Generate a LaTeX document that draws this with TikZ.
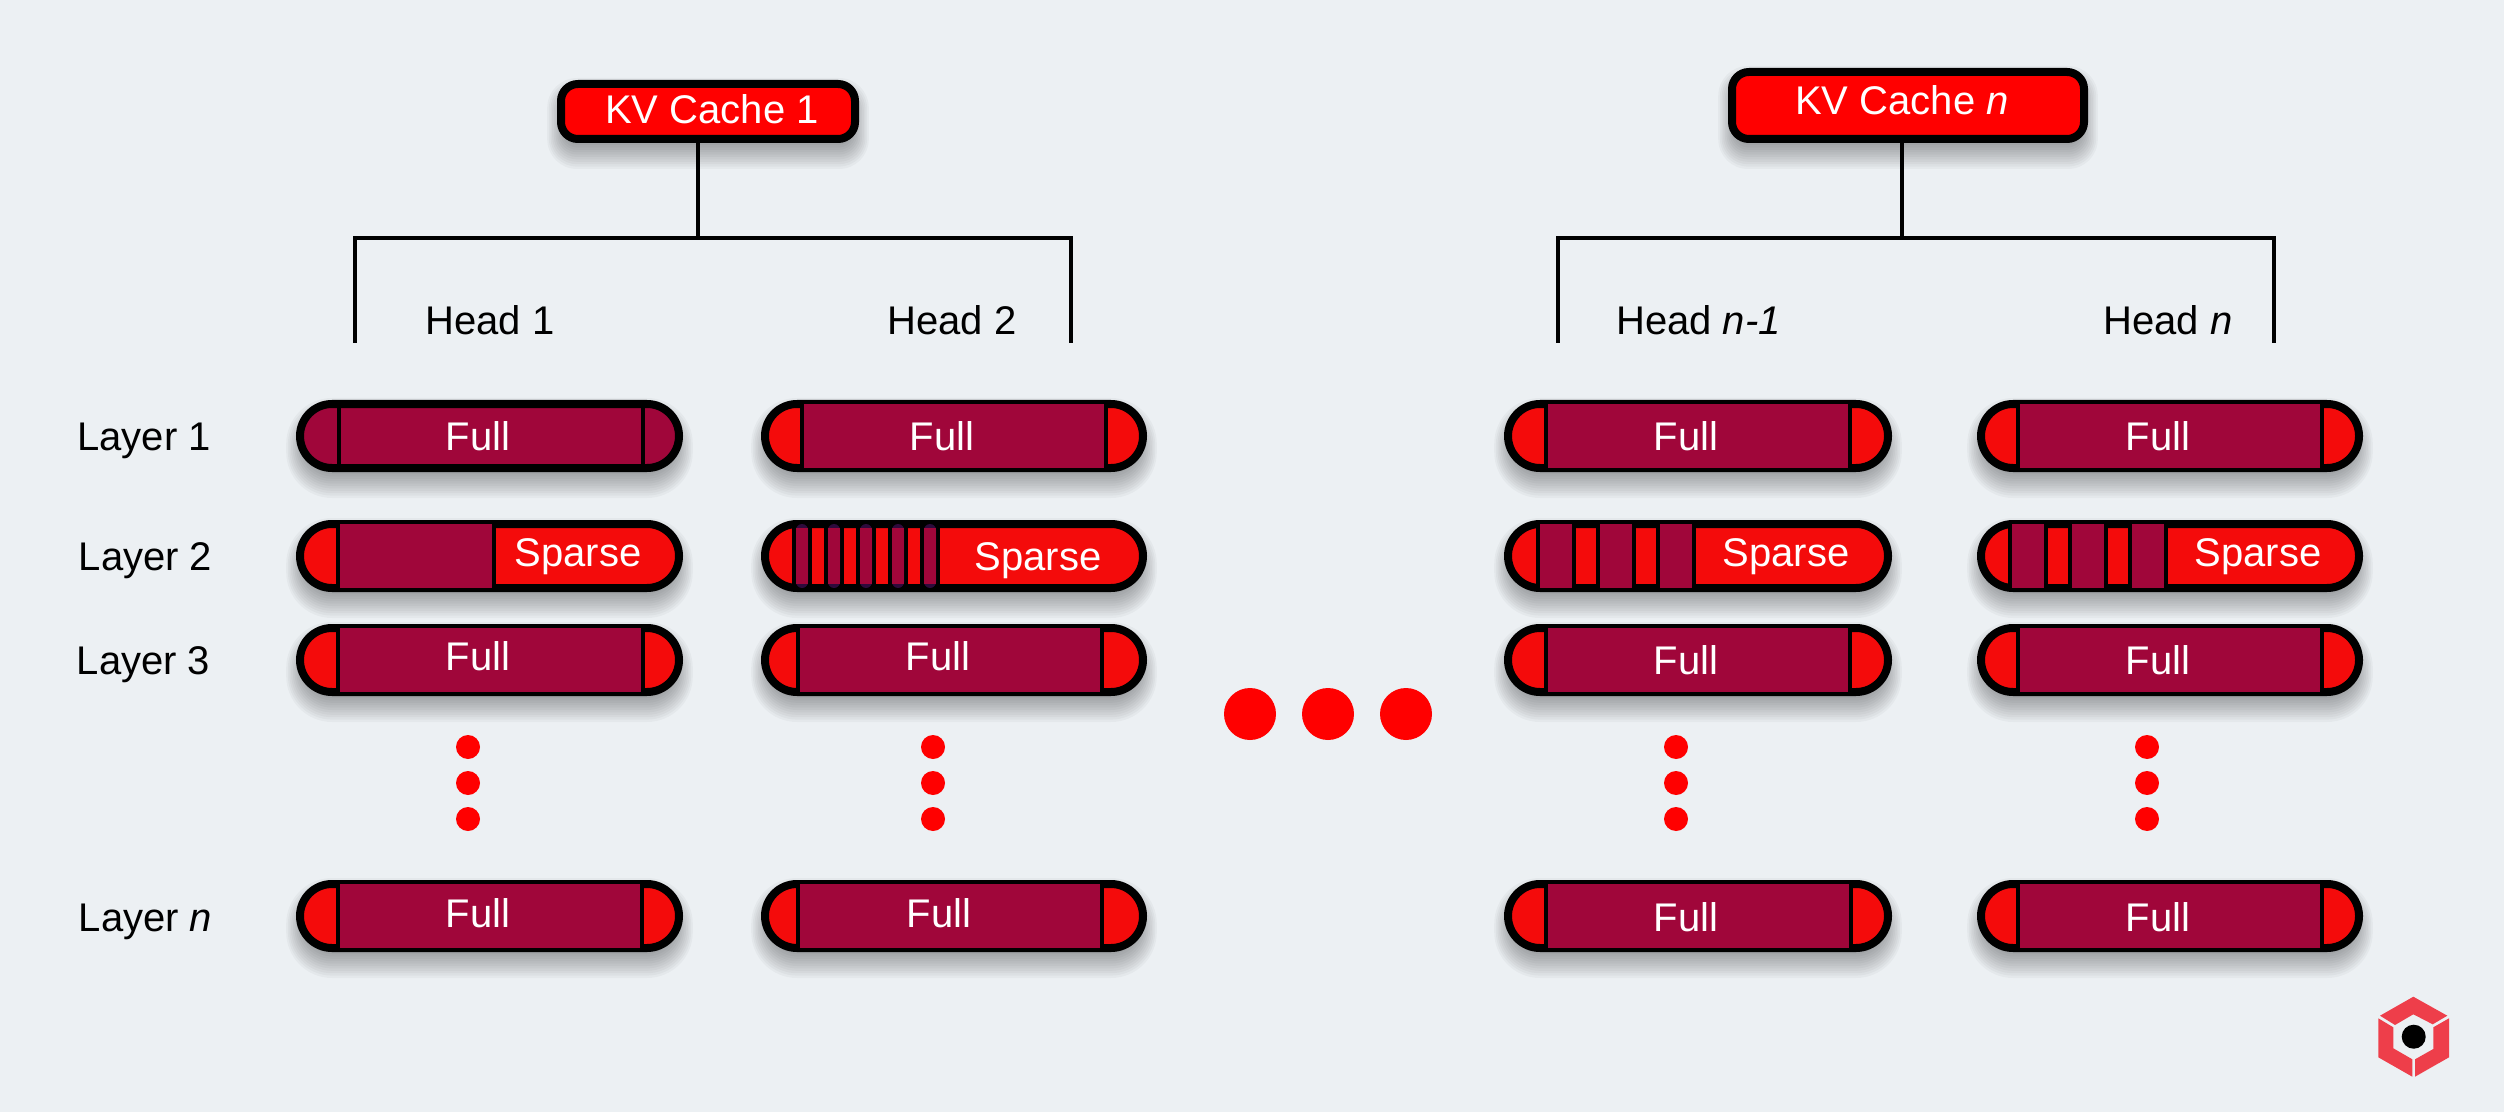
\documentclass[tikz,border=0pt]{standalone}
\usepackage{fontspec}
\setmainfont{Liberation Sans}
\definecolor{bgc}{HTML}{ECF0F3}
\definecolor{capred}{HTML}{F40B0B}
\definecolor{darkseg}{HTML}{A0063A}
\definecolor{stripetip}{HTML}{2E0A3C}
\definecolor{logored}{HTML}{EE3E4A}
\tikzset{
  lbl/.style={font=\fontsize{20}{24}\selectfont,anchor=base,inner sep=0pt,outer sep=0pt,text=black},
  wlbl/.style={lbl,text=white},
  kvbox/.style={draw=black,fill=red,line width=4pt,rounded corners=8.5pt,inner sep=0pt,outer sep=0pt},
  wire/.style={draw=black,line width=2pt},
  reddot/.style={fill=red}
}
% soft shadow below a shape: x0 y0 x1 y1 radius
\newcommand{\softshadow}[5]{%
  \foreach \e in {14,11.6,9.2,6.8,4.4,2,-0.4,-2.8,-5.2,-7.6,-10,-12.4}{%
    \pgfmathsetmacro\rr{max((#5+0.7*\e)/2,0.5)}%
    \fill[black,opacity=.03,rounded corners=\rr pt]
      ({#1-0.7*\e},{#2+12-\e}) rectangle ({#3+0.7*\e},{#4+12+\e});
  }%
}
% pill: x0 x1 ytop capcolour
\newcommand{\pillshell}[4]{%
  \softshadow{#1}{#3}{#2}{#3+72}{36}%
  \draw[fill=#4,draw=black,line width=4pt,rounded corners=16pt]
    ({#1+4},{#3+4}) rectangle ({#2-4},{#3+68});
}
% dark segment: xa xb ytop
\newcommand{\seg}[3]{%
  \fill[black] ({#1-4},{#3+4}) rectangle ({#2+4},{#3+68});
  \fill[darkseg] (#1,{#3+4}) rectangle (#2,{#3+68});
}
% narrow stripe: xa xb ytop
\newcommand{\stripe}[3]{%
  \fill[black] ({#1-4},{#3+6}) rectangle ({#2+4},{#3+66});
  \fill[stripetip,rounded corners=3pt] (#1,{#3+4}) rectangle (#2,{#3+68});
  \fill[darkseg] (#1,{#3+8}) rectangle (#2,{#3+64});
}
\begin{document}
\begin{tikzpicture}[x=0.5pt,y=-0.5pt]
\useasboundingbox (0,0) rectangle (2504,1112);
\fill[bgc] (0,0) rectangle (2504,1112);

% ---- KV cache boxes and brackets
\softshadow{557}{80}{859}{143}{20}
\softshadow{1728}{68}{2088}{143}{20}
\node[kvbox,minimum width=147pt,minimum height=27.5pt] (kv1) at (708,111.5) {};
\node[kvbox,minimum width=176pt,minimum height=33.5pt] (kvn) at (1908,105.5) {};
\node[wlbl] (kv1t) at (712,123.5) {KV Cache 1};
\node[wlbl] (kvnt) at (1902,115) {KV Cache \textit{n}};

\coordinate (j1) at (698,238);
\coordinate (l1) at (354.5,343);
\coordinate (r1) at (1070.5,343);
\coordinate (jn) at (1902,238);
\coordinate (ln) at (1557.5,343);
\coordinate (rn) at (2274,343);
\draw[wire] (kv1.south -| j1) ++(0,4) -- (j1);
\draw[wire] (kvn.south -| jn) ++(0,4) -- (jn);
\draw[wire] (l1) -- (l1 |- j1) -- (r1 |- j1) -- (r1);
\draw[wire] (ln) -- (ln |- jn) -- (rn |- jn) -- (rn);

\node[lbl] (h1) at (490,334.5) {Head 1};
\node[lbl] (h2) at (952,334.5) {Head 2};
\node[lbl] (h3) at (1698.5,334.5) {Head \textit{n-1}};
\node[lbl] (h4) at (2168,334.5) {Head \textit{n}};

% ---- layer labels
\node[lbl] (l1t) at (144,450.5) {Layer 1};
\node[lbl] (l2t) at (145.5,570.5) {Layer 2};
\node[lbl] (l3t) at (143.5,674.5) {Layer 3};
\node[lbl] (l4t) at (145.5,931) {Layer \textit{n}};

% ---- row 1
\pillshell{296}{683}{400}{darkseg}
\fill[black] (337,404) rectangle (340.5,468);
\fill[black] (641,404) rectangle (644.5,468);
\pillshell{761}{1147}{400}{capred}
\seg{804}{1104}{400}
\pillshell{1504}{1892}{400}{capred}
\seg{1548}{1848}{400}
\pillshell{1977}{2363}{400}{capred}
\seg{2020}{2320}{400}
% ---- row 2
\pillshell{296}{683}{520}{capred}
\seg{340}{492}{520}
\pillshell{761}{1147}{520}{capred}
\foreach \xa in {796,828,860,892,924}{\stripe{\xa}{\xa+12}{520}}
\pillshell{1504}{1892}{520}{capred}
\seg{1540}{1572}{520}\seg{1600}{1632}{520}\seg{1660}{1692}{520}
\pillshell{1977}{2363}{520}{capred}
\seg{2012}{2044}{520}\seg{2072}{2104}{520}\seg{2132}{2164}{520}
% ---- row 3
\pillshell{296}{683}{624}{capred}
\seg{340}{641}{624}
\pillshell{761}{1147}{624}{capred}
\seg{800}{1100}{624}
\pillshell{1504}{1892}{624}{capred}
\seg{1548}{1848}{624}
\pillshell{1977}{2363}{624}{capred}
\seg{2020}{2320}{624}
% ---- row n
\pillshell{296}{683}{880}{capred}
\seg{340}{640}{880}
\pillshell{761}{1147}{880}{capred}
\seg{800}{1100}{880}
\pillshell{1504}{1892}{880}{capred}
\seg{1548}{1849}{880}
\pillshell{1977}{2363}{880}{capred}
\seg{2020}{2320}{880}

% ---- pill texts
\node[wlbl] (a1) at (478,450.5) {Full};
\node[wlbl] (a2) at (942,450.5) {Full};
\node[wlbl] (a3) at (1686,450.5) {Full};
\node[wlbl] (a4) at (2158,450.5) {Full};
\node[wlbl] (b1) at (578,566.5) {Sparse};
\node[wlbl] (b2) at (1038,570.5) {Sparse};
\node[wlbl] (b3) at (1786,566.5) {Sparse};
\node[wlbl] (b4) at (2258,566.5) {Sparse};
\node[wlbl] (c1) at (478,670.5) {Full};
\node[wlbl] (c2) at (938,670.5) {Full};
\node[wlbl] (c3) at (1686,674.5) {Full};
\node[wlbl] (c4) at (2158,674.5) {Full};
\node[wlbl] (d1) at (478,927) {Full};
\node[wlbl] (d2) at (939,927) {Full};
\node[wlbl] (d3) at (1686,931) {Full};
\node[wlbl] (d4) at (2158,931) {Full};

% ---- ellipsis dots
\foreach \x in {468,933,1676,2147}{
  \foreach \y in {747,783,819}{\fill[reddot] (\x,\y) circle[radius=12];}
}
\foreach \x in {1250,1328,1406}{\fill[reddot] (\x,714) circle[radius=26];}

% ---- logo
\fill[logored] (2413.3,996.7) -- (2447.3,1015.7) -- (2432.7,1024.3) -- (2413.3,1014.3) -- (2395,1025) -- (2380,1015.7) -- cycle;
\fill[logored] (2378.3,1018.3) -- (2393.3,1027.3) -- (2393.3,1048.3) -- (2412.3,1059.3) -- (2412.3,1076.7) -- (2378.3,1057.3) -- cycle;
\fill[logored] (2415,1059.3) -- (2433.3,1049) -- (2433.3,1027.3) -- (2449,1018.3) -- (2449,1057.3) -- (2415,1076.7) -- cycle;
\fill[black] (2413.7,1036.7) circle[radius=12];
\end{tikzpicture}
\end{document}
